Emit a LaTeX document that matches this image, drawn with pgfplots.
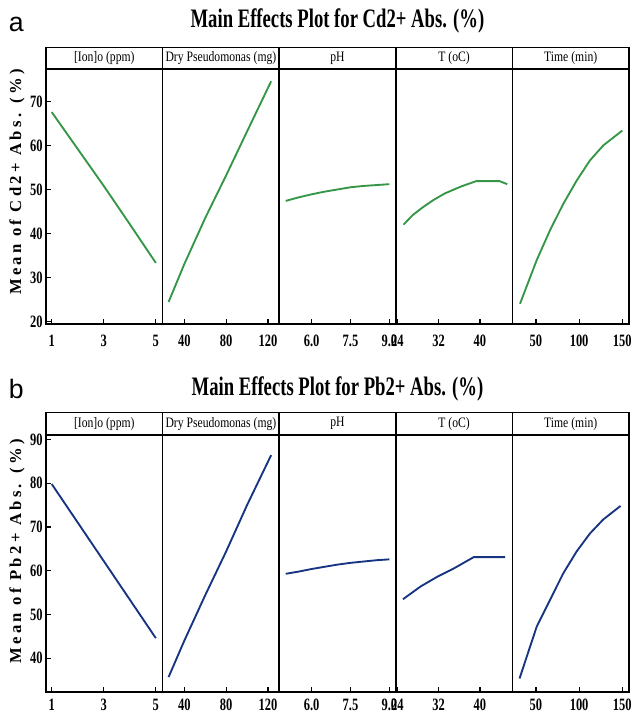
\documentclass[border=0pt]{standalone}
\usepackage{fontspec}
\setmainfont{Liberation Serif}
\newfontfamily\titlefont[FakeStretch=0.7]{Liberation Serif}
\newfontfamily\tickfont[FakeStretch=0.72]{Liberation Serif}
\newfontfamily\headfont[FakeStretch=0.81]{Liberation Serif}
\newfontfamily\ylabfont[LetterSpace=20]{Liberation Serif}
\newfontfamily\panelfont{Liberation Sans}
\usepackage{pgfplots}
\pgfplotsset{compat=1.18}

\definecolor{cdg}{RGB}{52,150,70}
\definecolor{pbb}{RGB}{22,52,130}

\pgfplotsset{
  mep/.style={
    scale only axis, width=87.45pt, anchor=north west,
    axis line style={line width=1.3pt},
    tick style={line width=0.9pt, black},
    tick align=inside, major tick length=4pt, tick pos=left,
    /pgf/number format/assume math mode=true,
    ticklabel style={font=\tickfont\bfseries\fontsize{13}{14}\selectfont},
    yticklabel style={xshift=1pt},
    every axis plot/.append style={line width=1.4pt, no marks},
  },
  toprow/.style={mep, height=191.25pt, ymin=19.4, ymax=77.4,
    xticklabel style={yshift=-4.5pt}},
  botrow/.style={mep, height=192.75pt, ymin=32.3, ymax=91.0,
    xticklabel style={yshift=-2pt}},
  p1/.style={xmin=0.78, xmax=5.26, xtick={1,3,5}},
  p2/.style={xmin=19.3, xmax=130.7, xtick={40,80,120}, ytick=\empty},
  p3/.style={xmin=4.75, xmax=9.25, xtick={6,7.5,9}, ytick=\empty,
    xticklabel style={/pgf/number format/.cd, fixed, fixed zerofill, precision=1}},
  p4/.style={xmin=23.7, xmax=46.3, xtick={24,32,40}, ytick=\empty},
  p5/.style={xmin=22.7, xmax=157.8, xtick={50,100,150}, ytick=\empty},
}

\begin{document}
\begin{tikzpicture}
\useasboundingbox (0,0) rectangle (473.25pt,-535.5pt);

% ---------- (a) Cd2+ ----------
\begin{axis}[toprow, p1, at={(34.5pt,-51.75pt)}, ytick={20,30,...,70}]
  \addplot[cdg] coordinates {(1,67.6) (2,59.2) (3,50.8) (4,42.1) (5,33.3)};
\end{axis}
\begin{axis}[toprow, p2, at={(121.95pt,-51.75pt)}]
  \addplot[cdg] coordinates {(25,24.4) (40,33.0) (60,43.5) (80,53.2) (100,63.2) (123,74.6)};
\end{axis}
\begin{axis}[toprow, p3, at={(209.4pt,-51.75pt)}]
  \addplot[cdg] coordinates {(5,47.4) (5.5,48.2) (6,48.9) (6.5,49.5) (7,50.0) (7.5,50.5) (8,50.8) (8.5,51.0) (9,51.2)};
\end{axis}
\begin{axis}[toprow, p4, at={(296.85pt,-51.75pt)}]
  \addplot[cdg] coordinates {(25.2,42.0) (27,44.2) (29,46.0) (31,47.6) (33.2,49.1) (36.4,50.7) (39.3,51.9) (43.8,51.9) (45.3,51.2)};
\end{axis}
\begin{axis}[toprow, p5, at={(384.3pt,-51.75pt)}]
  \addplot[cdg] coordinates {(31.5,24.0) (50.8,33.9) (66.2,40.7) (81.6,46.7) (97.1,52.0) (112.5,56.6) (127.9,60.0) (150,63.4)};
\end{axis}

% ---------- (b) Pb2+ ----------
\begin{axis}[botrow, p1, at={(34.5pt,-326.25pt)}, ytick={40,50,...,90}]
  \addplot[pbb] coordinates {(1,79.8) (2,71.0) (3,62.2) (4,53.4) (5,44.6)};
\end{axis}
\begin{axis}[botrow, p2, at={(121.95pt,-326.25pt)}]
  \addplot[pbb] coordinates {(25,35.7) (40,44.0) (60,54.4) (80,64.4) (100,75.0) (123,86.4)};
\end{axis}
\begin{axis}[botrow, p3, at={(209.4pt,-326.25pt)}]
  \addplot[pbb] coordinates {(5,59.3) (5.5,59.8) (6,60.4) (6.5,60.9) (7,61.4) (7.5,61.8) (8,62.1) (8.5,62.4) (9,62.6)};
\end{axis}
\begin{axis}[botrow, p4, at={(296.85pt,-326.25pt)}]
  \addplot[pbb] coordinates {(25.1,53.5) (28.5,56.4) (31.7,58.6) (34.9,60.5) (38.8,63.1) (41,63.1) (44.9,63.1)};
\end{axis}
\begin{axis}[botrow, p5, at={(384.3pt,-326.25pt)}]
  \addplot[pbb] coordinates {(31,35.4) (50.8,47.2) (66.2,53.3) (81.6,59.4) (97.1,64.4) (112.5,68.5) (127.9,71.7) (148,74.8)};
\end{axis}

% header strips
\foreach \yt/\yb in {-35.6pt/-51.75pt, -309.4pt/-326.25pt}{
  \foreach \i/\lab in {0/{[Ion]o (ppm)}, 1/{Dry Pseudomonas (mg)}, 2/{pH}, 3/{T (oC)}, 4/{Time (min)}}{
    \draw[line width=1.3pt] ({34.5pt+\i*87.45pt},\yt) rectangle ({34.5pt+(\i+1)*87.45pt},\yb);
    \node[font=\headfont\fontsize{10.8}{12}\selectfont, inner sep=0pt]
      at ({34.5pt+(\i+0.5)*87.45pt},{(\yt+\yb)/2}) {\lab};
  }
}

% titles and panel letters
\node[anchor=base, font=\titlefont\bfseries\fontsize{20}{24}\selectfont] at (253.1pt,-20.25pt) {Main Effects Plot for Cd2+ Abs. (\%)};
\node[anchor=base, font=\titlefont\bfseries\fontsize{20}{24}\selectfont] at (253.1pt,-296.25pt) {Main Effects Plot for Pb2+ Abs. (\%)};
\node[anchor=base west, inner sep=0pt, font=\panelfont\fontsize{20}{24}\selectfont] at (6.5pt,-23.25pt) {a};
\node[anchor=base west, inner sep=0pt, font=\panelfont\fontsize{20}{24}\selectfont] at (6.5pt,-298.5pt) {b};

% y labels
\node[rotate=90, font=\ylabfont\bfseries\fontsize{12.5}{13}\selectfont] at (12.75pt,-136.5pt) {Mean of Cd2+ Abs. (\%)};
\node[rotate=90, font=\ylabfont\bfseries\fontsize{12.5}{13}\selectfont] at (12.75pt,-413.6pt) {Mean of Pb2+ Abs. (\%)};
\end{tikzpicture}
\end{document}
